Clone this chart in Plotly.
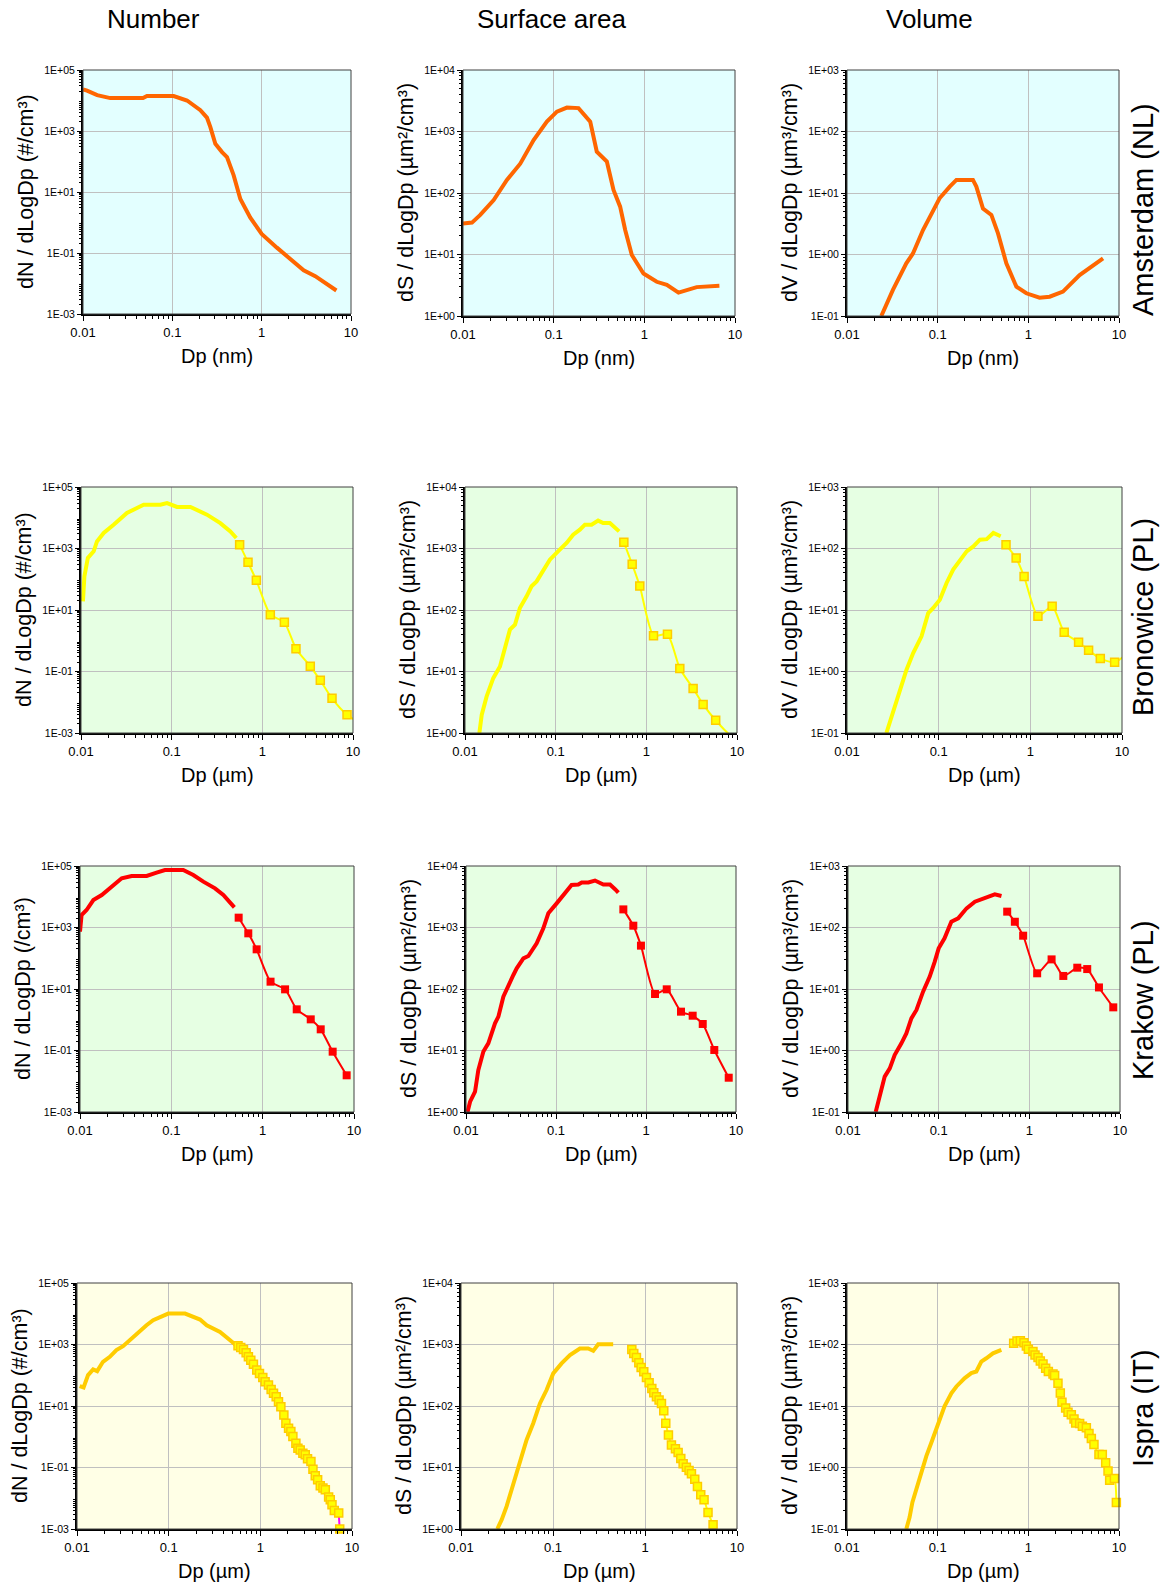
import plotly.graph_objects as go

# ---------------- data (Dp in µm / nm, distribution values) ----------------
# Amsterdam (NL)
AMS_N_X = [0.01, 0.0111, 0.0144, 0.0202, 0.047, 0.052, 0.1035, 0.146, 0.206, 0.244, 0.266, 0.303,
           0.36, 0.409, 0.486, 0.577, 0.746, 1.0, 1.48, 2.09, 2.95, 3.98, 6.86]
AMS_N_Y = [2.3e4, 2.1e4, 1.5e4, 1.2e4, 1.2e4, 1.4e4, 1.4e4, 1.0e4, 4.8e3, 2.75e3, 1.36e3, 382,
           203, 139, 35, 5.9, 1.45, 0.42, 0.15, 0.062, 0.027, 0.0174, 0.0059]
AMS_S_X = [0.01, 0.01256, 0.0155, 0.0218, 0.0305, 0.0428, 0.0601, 0.0842, 0.1086, 0.14, 0.188, 0.253,
           0.299, 0.386, 0.457, 0.541, 0.615, 0.728, 0.978, 1.37, 1.77, 2.38, 3.78, 6.73]
AMS_S_Y = [32, 33, 44, 77, 163, 300, 725, 1450, 2100, 2450, 2400, 1450, 470, 324, 112, 60, 25, 9.8,
           4.9, 3.6, 3.2, 2.4, 2.95, 3.1]
AMS_V_X = [0.0239, 0.0321, 0.0451, 0.0534, 0.0689, 0.0889, 0.105, 0.136, 0.161, 0.245, 0.267, 0.316,
           0.391, 0.463, 0.572, 0.738, 0.951, 1.33, 1.72, 2.41, 3.68, 6.67]
AMS_V_Y = [0.1, 0.265, 0.718, 1.04, 2.5, 5.3, 8.2, 12.7, 16.3, 16.3, 12.7, 5.6, 4.4, 2.2, 0.72, 0.3,
           0.234, 0.199, 0.206, 0.249, 0.464, 0.867]

# Bronowice (PL)
BRO_N_SMPS_X = [0.0105, 0.0109, 0.0119, 0.0138, 0.015, 0.0178, 0.0229, 0.0321, 0.0491, 0.075, 0.0889,
                0.1146, 0.161, 0.245, 0.344, 0.444, 0.516]
BRO_N_SMPS_Y = [19, 124, 491, 809, 1700, 3200, 5960, 14300, 26600, 26600, 30000, 22400, 22400, 12600,
                6700, 3600, 2200]
BRO_N_APS_X = [0.562, 0.695, 0.859, 1.225, 1.75, 2.35, 3.38, 4.36, 5.87, 8.59]
BRO_N_APS_Y = [1330, 355, 92, 7.05, 3.97, 0.553, 0.147, 0.0516, 0.0134, 0.0039]
BRO_N_TAIL_X = [12.05]
BRO_N_TAIL_Y = [0.0021]

BRO_S_SMPS_X = [0.0144, 0.0153, 0.0173, 0.0205, 0.0243, 0.0276, 0.0313, 0.0356, 0.0403, 0.0478, 0.0542,
                0.0616, 0.073, 0.0863, 0.111, 0.132, 0.156, 0.185, 0.21, 0.249, 0.294, 0.334, 0.396,
                0.449, 0.501]
BRO_S_SMPS_Y = [1.0, 1.99, 3.9, 7.8, 12.1, 25.6, 47.9, 57.8, 108, 167, 243, 292, 453, 658, 957, 1230,
                1680, 2020, 2440, 2440, 2840, 2600, 2600, 2240, 1900]
BRO_S_APS_X = [0.565, 0.698, 0.847, 1.2, 1.71, 2.34, 3.28, 4.23, 5.82]
BRO_S_APS_Y = [1260, 553, 245, 38.3, 40.2, 11.2, 5.3, 2.92, 1.61]
BRO_S_TAIL_X = [8.67, 11.6]
BRO_S_TAIL_Y = [0.91, 1.1]

BRO_V_SMPS_X = [0.0269, 0.0318, 0.0377, 0.0446, 0.0527, 0.065, 0.0769, 0.0873, 0.103, 0.122, 0.144,
                0.171, 0.202, 0.239, 0.282, 0.334, 0.395, 0.475]
BRO_V_SMPS_Y = [0.1, 0.211, 0.476, 1.07, 2.0, 3.73, 8.9, 10.8, 14.7, 27.5, 45.3, 65.8, 90, 108, 139,
                142, 179, 158]
BRO_V_APS_X = [0.543, 0.7, 0.855, 1.21, 1.73, 2.34, 3.36, 4.32, 5.8, 8.31]
BRO_V_APS_Y = [115, 70, 35, 7.9, 11.5, 4.34, 2.98, 2.21, 1.62, 1.41]
BRO_V_TAIL_X = [11.3]
BRO_V_TAIL_Y = [1.95]

# Krakow (PL)
KRA_N_SMPS_X = [0.01, 0.0104, 0.0118, 0.014, 0.0173, 0.0213, 0.0252, 0.0286, 0.0368, 0.0537, 0.069,
                0.0851, 0.135, 0.174, 0.224, 0.301, 0.371, 0.439, 0.49]
KRA_N_SMPS_Y = [731, 2550, 3700, 7800, 11400, 18800, 27300, 39700, 47300, 47300, 60700, 74000, 74000,
                51000, 31000, 18800, 11400, 6900, 4500]
KRA_N_APS_X = [0.546, 0.696, 0.859, 1.22, 1.76, 2.36, 3.36, 4.32, 5.84, 8.31]
KRA_N_APS_Y = [2090, 646, 195, 17.3, 9.75, 2.18, 1.03, 0.488, 0.0916, 0.0156]

KRA_S_SMPS_X = [0.0104, 0.0111, 0.0126, 0.0137, 0.0156, 0.0177, 0.021, 0.0229, 0.026, 0.0295, 0.0336,
                0.0366, 0.0434, 0.0493, 0.061, 0.0723, 0.0822, 0.1017, 0.126, 0.149, 0.177, 0.193,
                0.229, 0.271, 0.336, 0.398, 0.453, 0.493]
KRA_S_SMPS_Y = [1.0, 1.47, 2.14, 4.8, 9.6, 13.1, 27.7, 35.5, 75, 116, 169, 217, 315, 344, 553, 968,
                1700, 2470, 3600, 4910, 5000, 5400, 5400, 5800, 5000, 5000, 4200, 3680]
KRA_S_APS_X = [0.56, 0.723, 0.879, 1.26, 1.7, 2.45, 3.3, 4.27, 5.74, 8.3]
KRA_S_APS_Y = [1970, 1070, 507, 83, 98.8, 42.8, 36.8, 27, 10.2, 3.61]

KRA_V_SMPS_X = [0.0202, 0.0224, 0.0254, 0.0289, 0.0327, 0.0388, 0.044, 0.05, 0.0569, 0.0673, 0.0797,
                0.0905, 0.1, 0.116, 0.138, 0.164, 0.203, 0.251, 0.31, 0.367, 0.416, 0.493]
KRA_V_SMPS_Y = [0.1, 0.177, 0.376, 0.513, 0.845, 1.31, 1.9, 3.33, 4.56, 9.06, 15.9, 27.8, 45.8, 66.7,
                124, 141, 205, 263, 298, 325, 346, 325]
KRA_V_APS_X = [0.57, 0.692, 0.855, 1.22, 1.76, 2.37, 3.38, 4.35, 5.86, 8.43]
KRA_V_APS_Y = [181, 124, 73.6, 18, 30.3, 16.3, 22.2, 21.1, 10.6, 5.03]

# Ispra (IT)
ISP_N_SMPS_X = [0.0107, 0.0118, 0.0132, 0.015, 0.0166, 0.0192, 0.0228, 0.0269, 0.0318, 0.0393, 0.0484,
                0.0573, 0.0677, 0.0836, 0.099, 0.151, 0.178, 0.22, 0.26, 0.307, 0.363, 0.468, 0.543]
ISP_N_SMPS_Y = [44.6, 40.3, 101, 155, 136, 274, 398, 655, 883, 1570, 2920, 4240, 6150, 8300, 10100,
                10100, 8300, 6470, 4240, 3300, 2580, 1380, 951]
ISP_N_APS_X = [0.571, 0.611, 0.655, 0.700, 0.741, 0.787, 0.841, 0.914, 0.979, 1.064, 1.128, 1.227,
               1.312, 1.393, 1.489, 1.578, 1.675, 1.806, 1.900, 2.032, 2.153, 2.265, 2.443, 2.570,
               2.723, 2.912, 3.090, 3.273, 3.565, 3.750, 3.972, 4.217, 4.508, 4.819, 5.117, 5.559,
               5.794, 6.051, 6.412, 7.161, 7.345]
ISP_N_APS_Y = [906, 800, 689, 537, 398, 310, 230, 147, 115, 85, 61.5, 48, 34.7, 25.8, 20.1, 13.8, 9.5,
               5.1, 2.74, 1.89, 1.47, 1.01, 0.615, 0.424, 0.374, 0.292, 0.258, 0.191, 0.157, 0.0883,
               0.0537, 0.0398, 0.0254, 0.0214, 0.0189, 0.0109, 0.00893, 0.00615, 0.00403, 0.0033, 0.001]

ISP_S_SMPS_X = [0.0248, 0.0277, 0.0313, 0.0355, 0.0402, 0.0456, 0.0516, 0.061, 0.0721, 0.0851, 0.1006,
                0.124, 0.153, 0.196, 0.241, 0.274, 0.31, 0.451]
ISP_S_SMPS_Y = [1.0, 1.42, 2.33, 4.35, 8.1, 15.1, 28.1, 52.4, 110, 182, 339, 492, 671, 861, 861, 789,
                1010, 1010]
ISP_S_APS_X = [0.719, 0.755, 0.807, 0.857, 0.908, 0.970, 1.037, 1.109, 1.186, 1.246, 1.332, 1.423, 1.510,
               1.600, 1.682, 1.798, 1.938, 2.142, 2.291, 2.449, 2.597, 2.818, 3.013, 3.199, 3.475,
               3.715, 4.036, 4.385, 4.842, 5.495]
ISP_S_APS_Y = [830, 714, 615, 505, 424, 361, 292, 239, 193, 164, 142, 125, 110, 84, 52.4, 33.9, 23.3,
               20.1, 17.5, 14.0, 11.5, 10.1, 8.93, 7.89, 6.47, 4.92, 3.6, 2.99, 1.86, 1.17]
ISP_S_TAIL_X = [6.07]
ISP_S_TAIL_Y = [0.76]

ISP_V_SMPS_X = [0.0451, 0.049, 0.0526, 0.0582, 0.0661, 0.075, 0.0851, 0.101, 0.119, 0.142, 0.161,
                0.199, 0.235, 0.267, 0.303, 0.344, 0.407, 0.504]
ISP_V_SMPS_Y = [0.1, 0.155, 0.27, 0.443, 0.933, 1.53, 2.52, 5.31, 9.88, 16.2, 20.8, 28.4, 34.2, 36.4,
                52.7, 59.7, 71.9, 81.5]
ISP_V_APS_X = [0.689, 0.75, 0.817, 0.895, 0.951, 1.0, 1.125, 1.185, 1.279, 1.356, 1.452, 1.553, 1.663,
               1.871, 1.95, 2.123, 2.253, 2.35, 2.58, 2.739, 2.979, 3.19, 3.327, 3.681, 3.945, 4.365,
               4.667, 4.955, 5.297, 6.012, 6.546, 7.129, 7.568, 7.889, 8.892, 9.354]
ISP_V_APS_Y = [104.5, 114, 115, 107, 94.6, 83.5, 76.6, 67.6, 61.2, 54.1, 48.4, 41.2, 36.4, 33.0, 31.3,
               23.5, 16.2, 11.5, 9.29, 7.9, 7.24, 6.17, 5.31, 5.18, 4.69, 4.41, 3.57, 2.96, 2.37, 1.63,
               1.63, 1.2, 0.877, 0.62, 0.66, 0.27]

# ---------------- labels / ticks ----------------
COL_TITLES = ["Number", "Surface area", "Volume"]
ROW_LABELS = ["Amsterdam (NL)", "Bronowice (PL)", "Krakow (PL)", "Ispra (IT)"]
X_TITLES = ["Dp (nm)", "Dp (µm)", "Dp (µm)", "Dp (µm)"]
Y_TITLES = [
    ["dN / dLogDp (#/cm³)", "dS / dLogDp (µm²/cm³)", "dV / dLogDp (µm³/cm³)"],
    ["dN / dLogDp (#/cm³)", "dS / dLogDp (µm²/cm³)", "dV / dLogDp (µm³/cm³)"],
    ["dN / dLogDp (/cm³)", "dS / dLogDp (µm²/cm³)", "dV / dLogDp (µm³/cm³)"],
    ["dN / dLogDp (#/cm³)", "dS / dLogDp (µm²/cm³)", "dV / dLogDp (µm³/cm³)"],
]
X_TICKS = [0.01, 0.1, 1, 10]
X_TICK_TEXT = ["0.01", "0.1", "1", "10"]
Y_TICKS = [
    [1e-3, 1e-1, 1e1, 1e3, 1e5],
    [1e0, 1e1, 1e2, 1e3, 1e4],
    [1e-1, 1e0, 1e1, 1e2, 1e3],
]
Y_TICK_TEXT = [
    ["1E-03", "1E-01", "1E+01", "1E+03", "1E+05"],
    ["1E+00", "1E+01", "1E+02", "1E+03", "1E+04"],
    ["1E-01", "1E+00", "1E+01", "1E+02", "1E+03"],
]
Y_RANGES = [[-3, 5], [0, 4], [-1, 3]]

# ---------------- layout geometry (target screen pixels) ----------------
FW, FH = 1169, 1588
FONT = "Liberation Sans, Arial, sans-serif"


def px(X):
    return X / FW


def py(Y):
    return 1 - Y / FH


BOXES = [  # (left, top, right, bottom)
    [(83, 70, 351, 314), (463, 70, 735, 316), (847, 70, 1119, 316)],
    [(81, 487, 353, 733), (465, 487, 737, 733), (847, 487, 1122, 733)],
    [(80, 866, 354, 1112), (466, 866, 736, 1112), (848, 866, 1120, 1112)],
    [(77, 1283, 352, 1529), (461, 1283, 737, 1529), (847, 1283, 1119, 1529)],
]
ROW_LABEL_Y = [210, 617, 1000, 1408]
ROW_BG = ["#E3FFFF", "#E6FFE3", "#E6FFE3", "#FFFFE6"]
ROW_STYLE = [
    dict(smps="#FF6600", aps="#FF6600", mfill="#FF6600", mline="#FF6600"),
    dict(smps="#FFFF00", aps="#FFFF00", mfill="#FFFF00", mline="#FFCC00"),
    dict(smps="#FF0000", aps="#FF0000", mfill="#FF0000", mline="#FF0000"),
    dict(smps="#FFCC00", aps="#FFFF00", mfill="#FFFF00", mline="#FFCC00"),
]

PANELS = [
    [(AMS_N_X, AMS_N_Y, None, None, None, None),
     (AMS_S_X, AMS_S_Y, None, None, None, None),
     (AMS_V_X, AMS_V_Y, None, None, None, None)],
    [(BRO_N_SMPS_X, BRO_N_SMPS_Y, BRO_N_APS_X, BRO_N_APS_Y, BRO_N_TAIL_X, BRO_N_TAIL_Y),
     (BRO_S_SMPS_X, BRO_S_SMPS_Y, BRO_S_APS_X, BRO_S_APS_Y, BRO_S_TAIL_X, BRO_S_TAIL_Y),
     (BRO_V_SMPS_X, BRO_V_SMPS_Y, BRO_V_APS_X, BRO_V_APS_Y, BRO_V_TAIL_X, BRO_V_TAIL_Y)],
    [(KRA_N_SMPS_X, KRA_N_SMPS_Y, KRA_N_APS_X, KRA_N_APS_Y, None, None),
     (KRA_S_SMPS_X, KRA_S_SMPS_Y, KRA_S_APS_X, KRA_S_APS_Y, None, None),
     (KRA_V_SMPS_X, KRA_V_SMPS_Y, KRA_V_APS_X, KRA_V_APS_Y, None, None)],
    [(ISP_N_SMPS_X, ISP_N_SMPS_Y, ISP_N_APS_X, ISP_N_APS_Y, None, None),
     (ISP_S_SMPS_X, ISP_S_SMPS_Y, ISP_S_APS_X, ISP_S_APS_Y, ISP_S_TAIL_X, ISP_S_TAIL_Y),
     (ISP_V_SMPS_X, ISP_V_SMPS_Y, ISP_V_APS_X, ISP_V_APS_Y, None, None)],
]

X_MINOR = [k * 10.0 ** e for e in range(-2, 1) for k in range(2, 10)]


def y_minor(rng):
    return [k * 10.0 ** e for e in range(rng[0], rng[1]) for k in range(2, 10)]


fig = go.Figure()
shapes = []
annotations = []
layout_axes = {}

for r in range(4):
    st = ROW_STYLE[r]
    for c in range(3):
        i = r * 3 + c + 1
        suf = "" if i == 1 else str(i)
        xa, ya = f"x{suf}", f"y{suf}"
        left, top, right, bottom = BOXES[r][c]
        sx, sy, ax_, ay_, tx, ty = PANELS[r][c]

        fig.add_trace(go.Scatter(x=sx, y=sy, mode="lines", xaxis=xa, yaxis=ya,
                                 line=dict(color=st["smps"], width=4), showlegend=False))
        if ax_ is not None:
            lx = list(ax_) + (list(tx) if tx else [])
            ly = list(ay_) + (list(ty) if ty else [])
            if r == 3 and c == 0:
                # last segment drawn in magenta in the original
                fig.add_trace(go.Scatter(x=lx[-2:], y=ly[-2:], mode="lines", xaxis=xa, yaxis=ya,
                                         line=dict(color="#FF00FF", width=2), showlegend=False,
                                         cliponaxis=False))
                lx, ly = lx[:-1], ly[:-1]
            fig.add_trace(go.Scatter(x=lx, y=ly, mode="lines", xaxis=xa, yaxis=ya,
                                     line=dict(color=st["aps"], width=2, shape="spline", smoothing=0.6),
                                     showlegend=False))
            fig.add_trace(go.Scatter(x=ax_, y=ay_, mode="markers", xaxis=xa, yaxis=ya,
                                     marker=dict(symbol="square", size=8,
                                                 color=st["mfill"],
                                                 line=dict(color=st["mline"], width=1.5 if r != 2 else 0)),
                                     showlegend=False, cliponaxis=False))

        xdom = [px(left), px(right)]
        ydom = [py(bottom), py(top)]
        layout_axes[f"xaxis{suf}"] = dict(
            type="log", range=[-2, 1], domain=xdom, anchor=ya, automargin=False,
            showline=True, linecolor="black", linewidth=2, mirror=False,
            ticks="outside", ticklen=5, tickwidth=1, tickcolor="black",
            tickmode="array", tickvals=X_TICKS, ticktext=X_TICK_TEXT,
            tickfont=dict(size=13, color="black", family=FONT),
            showgrid=True, gridcolor="#C0C0C0", gridwidth=1, zeroline=False,
            minor=dict(tickmode="array", tickvals=X_MINOR, ticks="outside", ticklen=3,
                       tickcolor="black", tickwidth=1, showgrid=False),
            fixedrange=True,
        )
        layout_axes[f"yaxis{suf}"] = dict(
            type="log", range=Y_RANGES[c], domain=ydom, anchor=xa, automargin=False,
            showline=True, linecolor="black", linewidth=2, mirror=False,
            ticks="outside", ticklen=4, tickwidth=1, tickcolor="black",
            tickmode="array", tickvals=Y_TICKS[c], ticktext=Y_TICK_TEXT[c],
            tickfont=dict(size=10.5, color="black", family=FONT),
            showgrid=True, gridcolor="#C0C0C0", gridwidth=1, zeroline=False,
            minor=dict(tickmode="array", tickvals=y_minor(Y_RANGES[c]), ticks="outside", ticklen=2,
                       tickcolor="black", tickwidth=1, showgrid=False),
            fixedrange=True,
        )
        shapes.append(dict(type="rect", xref=f"{xa} domain", yref=f"{ya} domain",
                           x0=0, x1=1, y0=0, y1=1, layer="below",
                           fillcolor=ROW_BG[r], line=dict(width=0)))
        shapes.append(dict(type="rect", xref=f"{xa} domain", yref=f"{ya} domain",
                           x0=0, x1=1, y0=0, y1=1, layer="above",
                           fillcolor="rgba(0,0,0,0)", line=dict(color="#404040", width=1)))
        # axis titles
        annotations.append(dict(text=X_TITLES[r], xref="paper", yref="paper",
                                x=px((left + right) / 2), y=py(bottom + 42),
                                xanchor="center", yanchor="middle", showarrow=False,
                                font=dict(size=20, color="black", family=FONT)))
        annotations.append(dict(text=Y_TITLES[r][c], xref="paper", yref="paper",
                                x=px(left - 57), y=py((top + bottom) / 2),
                                xanchor="center", yanchor="middle", showarrow=False, textangle=-90,
                                font=dict(size=21.5, color="black", family=FONT)))

for c, t in enumerate(COL_TITLES):
    cx = [153, 551, 929][c]
    annotations.append(dict(text=t, xref="paper", yref="paper", x=px(cx), y=py(19),
                            xanchor="center", yanchor="middle", showarrow=False,
                            font=dict(size=26, color="black", family=FONT)))
for r, t in enumerate(ROW_LABELS):
    annotations.append(dict(text=t, xref="paper", yref="paper", x=px(1143), y=py(ROW_LABEL_Y[r]),
                            xanchor="center", yanchor="middle", showarrow=False, textangle=-90,
                            font=dict(size=29, color="black", family=FONT)))

fig.update_layout(
    template="none",
    width=FW, height=FH, margin=dict(l=0, r=0, t=0, b=0, pad=0, autoexpand=False),
    paper_bgcolor="white", plot_bgcolor="rgba(0,0,0,0)",
    showlegend=False, shapes=shapes, annotations=annotations,
    font=dict(family=FONT, color="black"),
    **layout_axes,
)

# remove the default page margin so the figure fills the window exactly
POST = ("document.documentElement.style.margin='0';document.documentElement.style.padding='0';"
        "document.body.style.margin='0';document.body.style.padding='0';"
        "document.documentElement.style.overflow='hidden';document.body.style.overflow='hidden';")

fig.write_html("out.html", post_script=POST)
